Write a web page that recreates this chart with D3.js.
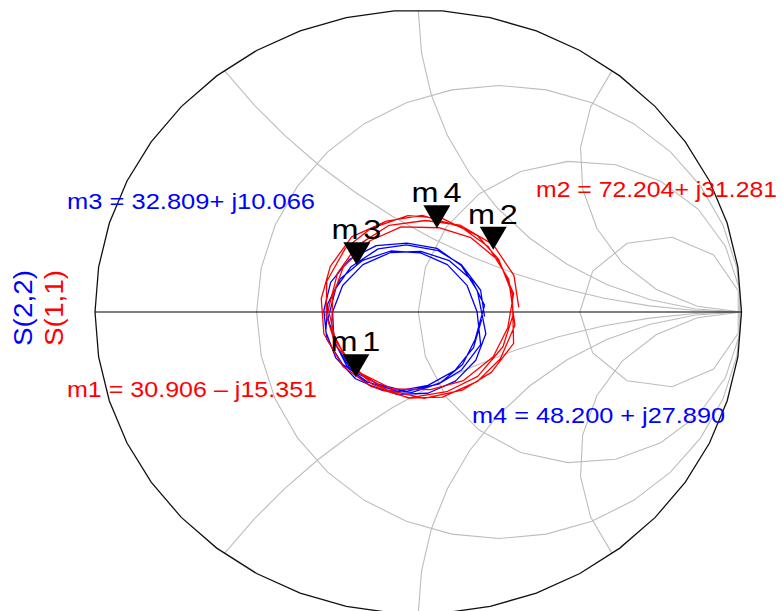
<!DOCTYPE html>
<html>
<head>
<meta charset="utf-8">
<script src="https://cdn.jsdelivr.net/npm/d3@7"></script>
<style>
  body { margin: 0; background: #fff; }
  svg { display: block; }
</style>
</head>
<body>
<svg id="chart" width="783" height="611"></svg>
<script>
// Reference impedance and Smith chart grid (normalised values)
const z0 = 50;
const resistanceCircles = [1 / 3, 1, 3];
const reactanceArcs = [0.5, 1, 2, -0.5, -1, -2];

// S(1,1) sweep as reflection coefficient (real / imaginary), several passes round the chart
const s11Re = [
  0.311, 0.296, 0.232, 0.129, 0.022, -0.090, -0.191, -0.250, -0.278, -0.255, -0.186, -0.096, 0.018, 0.136, 0.226, 0.295,
  0.291, 0.249, 0.182, 0.074, -0.032, -0.146, -0.226, -0.283, -0.285, -0.255, -0.176, -0.080, 0.038, 0.140, 0.232, 0.277,
  0.295, 0.250, 0.163, 0.064, -0.053, -0.149, -0.232, -0.265, -0.268, -0.216, -0.141, -0.030, 0.075, 0.183, 0.254, 0.299,
  0.280, 0.217, 0.131, 0.012, -0.098, -0.206, -0.272, -0.300, -0.292, -0.233, -0.147, -0.028, 0.088, 0.184, 0.262, 0.294
];
const s11Im = [
  0.015, 0.121, 0.223, 0.288, 0.303, 0.287, 0.218, 0.128, 0.009, -0.098, -0.200, -0.258, -0.286, -0.259, -0.200, -0.104,
  0.060, 0.174, 0.254, 0.310, 0.319, 0.277, 0.210, 0.102, -0.010, -0.112, -0.204, -0.255, -0.257, -0.227, -0.148, -0.052,
  0.061, 0.169, 0.246, 0.279, 0.282, 0.236, 0.149, 0.050, -0.061, -0.169, -0.240, -0.285, -0.282, -0.230, -0.155, -0.044,
  0.108, 0.216, 0.282, 0.320, 0.301, 0.249, 0.151, 0.044, -0.072, -0.180, -0.246, -0.284, -0.264, -0.213, -0.115, -0.008
];

// S(2,2) sweep as reflection coefficient (real / imaginary)
const s22Re = [
  0.205, 0.193, 0.134, 0.062, -0.037, -0.124, -0.208, -0.255, -0.279, -0.255, -0.208, -0.124, -0.037, 0.062, 0.134, 0.193,
  0.182, 0.151, 0.090, 0.007, -0.085, -0.172, -0.241, -0.280, -0.286, -0.255, -0.194, -0.111, -0.019, 0.068, 0.137, 0.176,
  0.205, 0.165, 0.096, 0.008, -0.086, -0.171, -0.234, -0.265, -0.261, -0.221, -0.152, -0.064, 0.030, 0.115, 0.178, 0.209,
  0.183, 0.134, 0.058, -0.035, -0.130, -0.213, -0.271, -0.292, -0.283, -0.234, -0.158, -0.065, 0.030, 0.113, 0.171, 0.196
];
const s22Im = [
  -0.015, 0.072, 0.156, 0.203, 0.222, 0.209, 0.150, 0.078, -0.021, -0.108, -0.192, -0.239, -0.263, -0.239, -0.192, -0.108,
  0.001, 0.088, 0.157, 0.196, 0.202, 0.171, 0.110, 0.027, -0.065, -0.152, -0.221, -0.260, -0.266, -0.235, -0.174, -0.091,
  0.022, 0.107, 0.170, 0.201, 0.197, 0.157, 0.088, 0.000, -0.094, -0.179, -0.242, -0.273, -0.269, -0.229, -0.160, -0.072,
  0.070, 0.153, 0.211, 0.228, 0.220, 0.174, 0.098, 0.005, -0.090, -0.173, -0.231, -0.262, -0.243, -0.194, -0.118, -0.025
];

// Trace names (drawn as the rotated axis title) and colours
const traceNames = ["S(2,2)", "S(1,1)"];
const traceColors = ["#0000ff", "#ff0000"];

// Markers: impedance readouts in ohms
const markerNames = ["m1", "m2", "m3", "m4"];
const markerR = [30.906, 72.204, 32.809, 48.200];
const markerX = [-15.351, 31.281, 10.066, 27.890];
const markerColors = ["#ff0000", "#ff0000", "#0000ff", "#0000ff"];

// ---------------------------------------------------------------------------
const svg = d3.select("#chart");

// Reflection-coefficient plane mapped onto the plot ellipse
const xs = d3.scaleLinear().domain([-1, 1]).range([95, 741.5]);
const ys = d3.scaleLinear().domain([-1, 1]).range([614, 10]);
const path = d3.line().x(d => xs(d[0])).y(d => ys(d[1]));

// Coarse polyline sampling of a circle arc (arc length per segment in Γ units)
const STEP = 0.15;
function arcPoints(cx, cy, r, a0, a1) {
  const n = Math.max(4, Math.ceil(Math.abs(a1 - a0) * r / STEP));
  return d3.range(n + 1).map(i => {
    const a = a0 + (a1 - a0) * i / n;
    return [cx + r * Math.cos(a), cy + r * Math.sin(a)];
  });
}

const grid = svg.append("g")
  .attr("fill", "none")
  .attr("stroke", "#bdbdbd")
  .attr("stroke-width", 1.1);

// constant-resistance circles
resistanceCircles.forEach(r => {
  const c = r / (1 + r), rad = 1 / (1 + r);
  grid.append("path").attr("d", path(arcPoints(c, 0, rad, Math.PI, -Math.PI)));
});

// constant-reactance arcs, from the outer rim to the open-circuit point
reactanceArcs.forEach(x => {
  const ax = Math.abs(x), sgn = Math.sign(x);
  const rad = 1 / ax;
  const u0 = (ax * ax - 1) / (ax * ax + 1), v0 = 2 * ax / (ax * ax + 1);
  let psi0 = Math.atan2(v0 - rad, u0 - 1);
  if (psi0 < 0) psi0 += 2 * Math.PI;
  const pts = arcPoints(1, rad, rad, psi0, 1.5 * Math.PI).map(p => [p[0], sgn * p[1]]);
  grid.append("path").attr("d", path(pts));
});

// outer rim (r = 0) and the real axis
svg.append("path")
  .attr("d", path(arcPoints(0, 0, 1, Math.PI, -Math.PI)))
  .attr("fill", "none")
  .attr("stroke", "#111")
  .attr("stroke-width", 1.3);
svg.append("path")
  .attr("d", path([[-1, 0], [1, 0]]))
  .attr("stroke", "#000")
  .attr("stroke-width", 1.1);

// traces
const traces = [
  { re: s22Re, im: s22Im, color: traceColors[0] },
  { re: s11Re, im: s11Im, color: traceColors[1] }
];
traces.forEach(t => {
  const pts = t.re.map((v, i) => [v, t.im[i]]);
  svg.append("path")
    .attr("d", path(pts))
    .attr("fill", "none")
    .attr("stroke", t.color)
    .attr("stroke-width", 1.3)
    .attr("stroke-linejoin", "round");
});

// markers: impedance -> reflection coefficient
function gamma(R, X) {
  const r = R / z0, x = X / z0;
  const den = (r + 1) * (r + 1) + x * x;
  return [((r * r + x * x) - 1) / den, (2 * x) / den];
}

const font = "'Liberation Sans', Arial, Helvetica, sans-serif";
const triW = 27, triH = 23;
markerNames.forEach((name, i) => {
  const g = gamma(markerR[i], markerX[i]);
  const px = xs(g[0]), py = ys(g[1]) - 3;
  svg.append("path")
    .attr("d", `M${px},${py} L${px - triW / 2},${py - triH} L${px + triW / 2},${py - triH} Z`)
    .attr("fill", "#000");
  // wide marker caption, "m" and index set slightly apart
  svg.append("text")
    .attr("transform", `translate(${px + 2},${py - triH - 3}) scale(1.2,1)`)
    .attr("text-anchor", "middle")
    .attr("font-family", font)
    .attr("font-size", 27)
    .attr("letter-spacing", 4)
    .attr("fill", "#000")
    .text(name);
});

// marker readouts
const readoutPos = [
  { x: 67, y: 397, w: 250, gap: " " },
  { x: 536, y: 197, w: 241, gap: "" },
  { x: 67, y: 209, w: 248, gap: "" },
  { x: 472, y: 423, w: 253, gap: " " }
];
markerNames.forEach((name, i) => {
  const sign = markerX[i] < 0 ? "\u2013" : "+";
  const label = `${name} = ${markerR[i].toFixed(3)}${readoutPos[i].gap}${sign} j${Math.abs(markerX[i]).toFixed(3)}`;
  svg.append("text")
    .attr("x", readoutPos[i].x)
    .attr("y", readoutPos[i].y)
    .attr("font-family", font)
    .attr("font-size", 22)
    .attr("textLength", readoutPos[i].w)
    .attr("lengthAdjust", "spacingAndGlyphs")
    .attr("fill", markerColors[i])
    .text(label);
});

// rotated trace titles on the left
const titleX = [32, 63];
traceNames.forEach((name, i) => {
  svg.append("text")
    .attr("transform", `translate(${titleX[i]},308) rotate(-90)`)
    .attr("text-anchor", "middle")
    .attr("font-family", font)
    .attr("font-size", 26)
    .attr("textLength", 76)
    .attr("lengthAdjust", "spacingAndGlyphs")
    .attr("fill", traceColors[i])
    .text(name);
});
</script>
</body>
</html>
